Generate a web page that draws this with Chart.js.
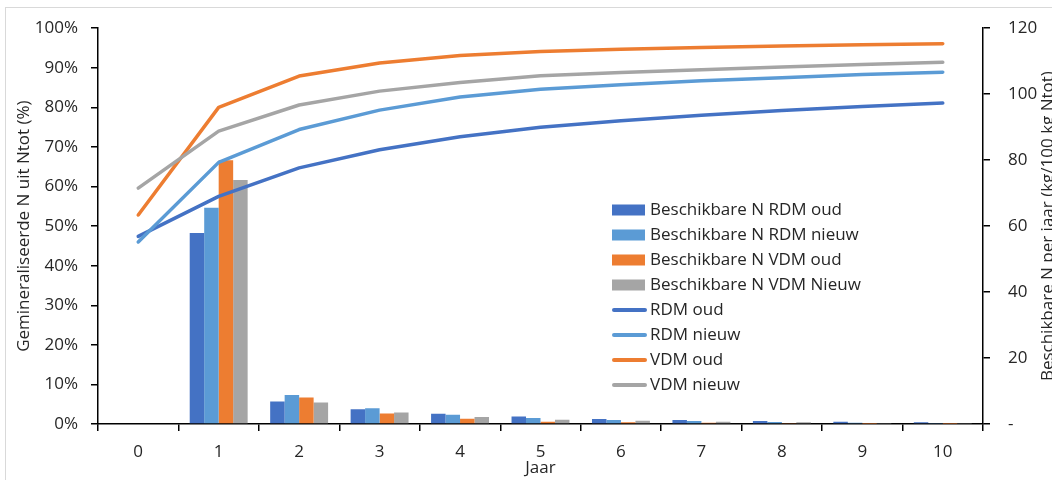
<!DOCTYPE html>
<html>
<head>
<meta charset="utf-8">
<script src="https://cdn.jsdelivr.net/npm/chart.js@4.4.1/dist/chart.umd.min.js"></script>
<style>
  html, body { margin: 0; padding: 0; background: #fff; }
  #wrap { width: 1052px; height: 480px; position: relative; overflow: hidden; }
</style>
</head>
<body>
<div id="wrap"><canvas id="c" width="1052" height="480"></canvas></div>
<script>
// Years after application
const years = ['0', '1', '2', '3', '4', '5', '6', '7', '8', '9', '10'];

// Cumulative mineralised N as % of total N (left axis)
const rdmOud   = [47.4, 57.5, 64.7, 69.3, 72.6, 75.0, 76.6, 78.0, 79.2, 80.2, 81.1];
const rdmNieuw = [46.0, 66.1, 74.4, 79.3, 82.6, 84.6, 85.7, 86.7, 87.5, 88.3, 88.9];
const vdmOud   = [52.8, 80.0, 87.9, 91.2, 93.1, 94.1, 94.7, 95.1, 95.5, 95.8, 96.1];
const vdmNieuw = [59.6, 74.0, 80.6, 84.1, 86.3, 88.0, 88.8, 89.5, 90.2, 90.8, 91.4];

// Available N per year, kg per 100 kg Ntot (right axis)
const barRdmOud   = [null, 57.9, 6.8, 4.5, 3.1, 2.3, 1.5, 1.2, 0.9, 0.7, 0.5];
const barRdmNieuw = [null, 65.6, 8.8, 4.8, 2.8, 1.8, 1.2, 0.9, 0.6, 0.4, 0.3];
const barVdmOud   = [null, 80.0, 8.0, 3.2, 1.6, 0.7, 0.5, 0.35, 0.3, 0.1, 0.1];
const barVdmNieuw = [null, 74.0, 6.5, 3.5, 2.1, 1.3, 1.0, 0.7, 0.5, 0.3, 0.3];

// Axis tick values
const leftTicks  = [0, 10, 20, 30, 40, 50, 60, 70, 80, 90, 100];
const rightTicks = [0, 20, 40, 60, 80, 100, 120];

const C_DBLUE = '#4472C4', C_LBLUE = '#5B9BD5', C_ORANGE = '#ED7D31', C_GRAY = '#A5A5A5';
const FONT = '"Open Sans", "DejaVu Sans", sans-serif';
const TXT = '#262626';

function barSet(label, data, color) {
  return { type: 'bar', label, data, backgroundColor: color, borderWidth: 0,
           yAxisID: 'yR', order: 10, categoryPercentage: 0.72, barPercentage: 1.0 };
}
function lineSet(label, data, color, order) {
  return { type: 'line', label, data, borderColor: color, backgroundColor: color,
           borderWidth: 3.5, pointRadius: 0, tension: 0, fill: false,
           borderCapStyle: 'round', borderJoinStyle: 'round', yAxisID: 'yL', order };
}

// White page with a thin light frame
const framePlugin = {
  id: 'frame',
  beforeDraw(chart) {
    const ctx = chart.ctx;
    ctx.save();
    ctx.fillStyle = '#fff';
    ctx.fillRect(0, 0, chart.width, chart.height);
    ctx.strokeStyle = '#D9D9D9';
    ctx.lineWidth = 1;
    ctx.strokeRect(5.5, 7.5, chart.width + 20, chart.height + 20);
    ctx.restore();
  }
};

// Legend drawn inside the plot area, one row per dataset
const innerLegend = {
  id: 'innerLegend',
  afterDraw(chart) {
    const ctx = chart.ctx;
    const x0 = 612, x1 = 645, tx = 650, y0 = 210, dy = 25;
    ctx.save();
    ctx.font = '17px ' + FONT;
    ctx.textBaseline = 'middle';
    ctx.textAlign = 'left';
    chart.data.datasets.forEach((ds, i) => {
      const y = y0 + i * dy;
      if (ds.type === 'bar') {
        ctx.fillStyle = ds.backgroundColor;
        ctx.fillRect(x0, y - 5.5, x1 - x0, 11);
      } else {
        ctx.strokeStyle = ds.borderColor;
        ctx.lineWidth = 4;
        ctx.lineCap = 'round';
        ctx.beginPath();
        ctx.moveTo(x0 + 2, y);
        ctx.lineTo(x1, y);
        ctx.stroke();
      }
      ctx.fillStyle = TXT;
      ctx.fillText(ds.label, tx, y);
    });
    ctx.restore();
  }
};

// Secondary axis title, reading bottom to top
const rightTitle = {
  id: 'rightTitle',
  afterDraw(chart) {
    const ctx = chart.ctx;
    const area = chart.chartArea;
    ctx.save();
    ctx.translate(1053, (area.top + area.bottom) / 2);
    ctx.rotate(-Math.PI / 2);
    ctx.font = '17px ' + FONT;
    ctx.fillStyle = TXT;
    ctx.textAlign = 'center';
    ctx.textBaseline = 'alphabetic';
    ctx.fillText('Beschikbare N per jaar (kg/100 kg Ntot)', 0, 0);
    ctx.restore();
  }
};

new Chart(document.getElementById('c'), {
  data: {
    labels: years,
    datasets: [
      barSet('Beschikbare N RDM oud', barRdmOud, C_DBLUE),
      barSet('Beschikbare N RDM nieuw', barRdmNieuw, C_LBLUE),
      barSet('Beschikbare N VDM oud', barVdmOud, C_ORANGE),
      barSet('Beschikbare N VDM Nieuw', barVdmNieuw, C_GRAY),
      lineSet('RDM oud', rdmOud, C_DBLUE, 4),
      lineSet('RDM nieuw', rdmNieuw, C_LBLUE, 3),
      lineSet('VDM oud', vdmOud, C_ORANGE, 2),
      lineSet('VDM nieuw', vdmNieuw, C_GRAY, 1)
    ]
  },
  options: {
    responsive: false,
    animation: false,
    devicePixelRatio: 1,
    layout: { padding: { top: 20, left: 0, right: 0, bottom: 0 } },
    plugins: { legend: { display: false }, tooltip: { enabled: false } },
    scales: {
      x: {
        type: 'category',
        offset: true,
        grid: { offset: true, drawOnChartArea: false, drawTicks: true, tickLength: 7,
                color: '#000', lineWidth: 1.5 },
        border: { color: '#000', width: 1.5 },
        ticks: { color: TXT, font: { family: FONT, size: 17 }, padding: 11, maxRotation: 0 },
        title: { display: true, text: 'Jaar', color: TXT, font: { family: FONT, size: 17 },
                 padding: { top: 0, bottom: 2 } },
        afterFit(s) { s.height = 56; }
      },
      yL: {
        position: 'left',
        min: 0, max: 100,
        afterBuildTicks(s) { s.ticks = leftTicks.map(v => ({ value: v })); },
        grid: { drawOnChartArea: false, drawTicks: true, tickLength: 7, color: '#000', lineWidth: 1.5 },
        border: { color: '#000', width: 1.5 },
        ticks: { color: TXT, font: { family: FONT, size: 17 }, padding: 13,
                 callback: v => v + '%' },
        title: { display: true, text: 'Gemineraliseerde N uit Ntot (%)', color: TXT,
                 font: { family: FONT, size: 17 }, padding: { top: 14, bottom: 0 } },
        afterFit(s) { s.width = 98; }
      },
      yR: {
        position: 'right',
        min: 0, max: 120,
        afterBuildTicks(s) { s.ticks = rightTicks.map(v => ({ value: v })); },
        grid: { drawOnChartArea: false, drawTicks: true, tickLength: 7, color: '#000', lineWidth: 1.5 },
        border: { color: '#000', width: 1.5 },
        ticks: { color: TXT, font: { family: FONT, size: 17 }, padding: 18,
                 callback: v => (v === 0 ? '-' : String(v)) },
        afterFit(s) { s.width = 69; }
      }
    }
  },
  plugins: [framePlugin, innerLegend, rightTitle]
});
</script>
</body>
</html>
